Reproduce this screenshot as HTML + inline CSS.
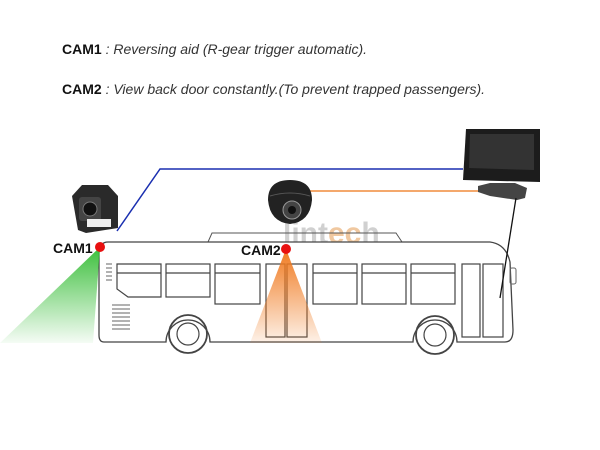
<!DOCTYPE html>
<html><head><meta charset="utf-8"><style>
body{margin:0;width:600px;height:450px;background:#fff;overflow:hidden;position:relative;font-family:"Liberation Sans",sans-serif}
.t{position:absolute;left:62px;font-size:14px;color:#222;white-space:nowrap}
.t b{font-weight:bold;color:#111}
.t i{color:#333}
</style></head><body>
<div class="t" style="top:41px"><b>CAM1</b> <i>: Reversing aid (R-gear trigger automatic).</i></div>
<div class="t" style="top:81px"><b>CAM2</b> <i>: View back door constantly.(To prevent trapped passengers).</i></div>
<svg width="600" height="450" style="position:absolute;left:0;top:0" viewBox="0 0 600 450">
<defs>
<linearGradient id="g" x1="0" y1="0" x2="0" y2="1"><stop offset="0" stop-color="#3cbf3c"/><stop offset="1" stop-color="#3cbf3c" stop-opacity="0.05"/></linearGradient>
<linearGradient id="o" x1="0" y1="0" x2="0" y2="1"><stop offset="0" stop-color="#f07a20"/><stop offset="1" stop-color="#f07a20" stop-opacity="0.1"/></linearGradient>
</defs>
<polyline points="117,231 160,169 463,169" fill="none" stroke="#1a2fb0" stroke-width="1.5"/>
<line x1="310" y1="191" x2="480" y2="191" stroke="#f08c3c" stroke-width="1.5"/>
<text x="283" y="243" font-size="30" font-weight="bold" fill="#d0d0d0" font-family="Liberation Sans,sans-serif">lint<tspan fill="#f0c8a0">ec</tspan>h</text>
<text x="297" y="257" font-size="10" fill="#c8c8c8" font-family="Liberation Sans,sans-serif">tomobile Vision Parts</text>
<path d="M208,242 L212,233 L396,233 L402,242" fill="none" stroke="#555" stroke-width="1"/>
<path d="M108,242 L490,242 Q506,244 510,262 L513,330 Q513,342 505,342 L457,342 A22,22 0 0 0 413,342 L210,342 A22,22 0 0 0 166,342 L104,342 Q99,342 99,335 L99,252 Q100,242 108,242 Z" fill="#fff" stroke="#444" stroke-width="1.3"/>
<rect x="510" y="268" width="6" height="16" rx="2" fill="none" stroke="#666"/>
<g fill="none" stroke="#444" stroke-width="1.2">
<path d="M117,264 H161 V297 H128 L117,289 Z"/><line x1="117" y1="273" x2="161" y2="273"/>
<rect x="166" y="264" width="44" height="33"/><line x1="166" y1="273" x2="210" y2="273"/>
<rect x="215" y="264" width="45" height="40"/><line x1="215" y1="273" x2="260" y2="273"/>
<rect x="266" y="264" width="19" height="73"/><rect x="287" y="264" width="20" height="73"/>
<rect x="313" y="264" width="44" height="40"/><line x1="313" y1="273" x2="357" y2="273"/>
<rect x="362" y="264" width="44" height="40"/><line x1="362" y1="273" x2="406" y2="273"/>
<rect x="411" y="264" width="44" height="40"/><line x1="411" y1="273" x2="455" y2="273"/>
<rect x="462" y="264" width="18" height="73"/><rect x="483" y="264" width="20" height="73"/>
<circle cx="188" cy="334" r="19" stroke-width="1.8"/><circle cx="188" cy="334" r="11"/>
<circle cx="435" cy="335" r="19" stroke-width="1.8"/><circle cx="435" cy="335" r="11"/>
</g>
<g stroke="#666" stroke-width="1">
<line x1="106" y1="264" x2="112" y2="264"/><line x1="106" y1="268" x2="112" y2="268"/><line x1="106" y1="272" x2="112" y2="272"/><line x1="106" y1="276" x2="112" y2="276"/><line x1="106" y1="280" x2="112" y2="280"/>
<line x1="112" y1="305" x2="130" y2="305"/><line x1="112" y1="309" x2="130" y2="309"/><line x1="112" y1="313" x2="130" y2="313"/><line x1="112" y1="317" x2="130" y2="317"/><line x1="112" y1="321" x2="130" y2="321"/><line x1="112" y1="325" x2="130" y2="325"/><line x1="112" y1="329" x2="130" y2="329"/>
</g>
<polygon points="100,247 0,343 93,343" fill="url(#g)"/>
<polygon points="286,249 250,343 322,343" fill="url(#o)"/>
<circle cx="100" cy="247" r="5" fill="#e81010"/>
<circle cx="286" cy="249" r="5" fill="#e81010"/>
<text x="53" y="253" font-size="14" font-weight="bold" fill="#111" font-family="Liberation Sans,sans-serif">CAM1</text>
<text x="241" y="255" font-size="14" font-weight="bold" fill="#111" font-family="Liberation Sans,sans-serif">CAM2</text>
<path d="M72,196 L82,185 L108,185 L118,196 L118,228 L86,233 L78,230 Z" fill="#2a2a2a"/>
<rect x="79" y="197" width="22" height="24" rx="3" fill="#444"/>
<circle cx="90" cy="209" r="7" fill="#111" stroke="#777"/>
<rect x="87" y="219" width="24" height="8" fill="#eee"/>
<path d="M268,200 Q268,180 290,180 Q312,180 312,200 Q310,222 290,224 Q270,222 268,200 Z" fill="#222"/>
<path d="M270,196 Q290,190 310,196" fill="none" stroke="#555"/>
<circle cx="292" cy="210" r="9" fill="#444" stroke="#999"/>
<circle cx="292" cy="210" r="4" fill="#111"/>
<path d="M466,129 L540,129 L540,182 L463,180 Z" fill="#1c1c1c"/>
<path d="M470,134 L534,134 L534,170 L469,168 Z" fill="#333"/>
<path d="M478,186 L490,183 L515,183 L527,188 L525,198 L517,200 L490,196 L478,192 Z" fill="#444"/>
<line x1="516" y1="198" x2="500" y2="298" stroke="#111" stroke-width="1.3"/>
</svg>
</body></html>
